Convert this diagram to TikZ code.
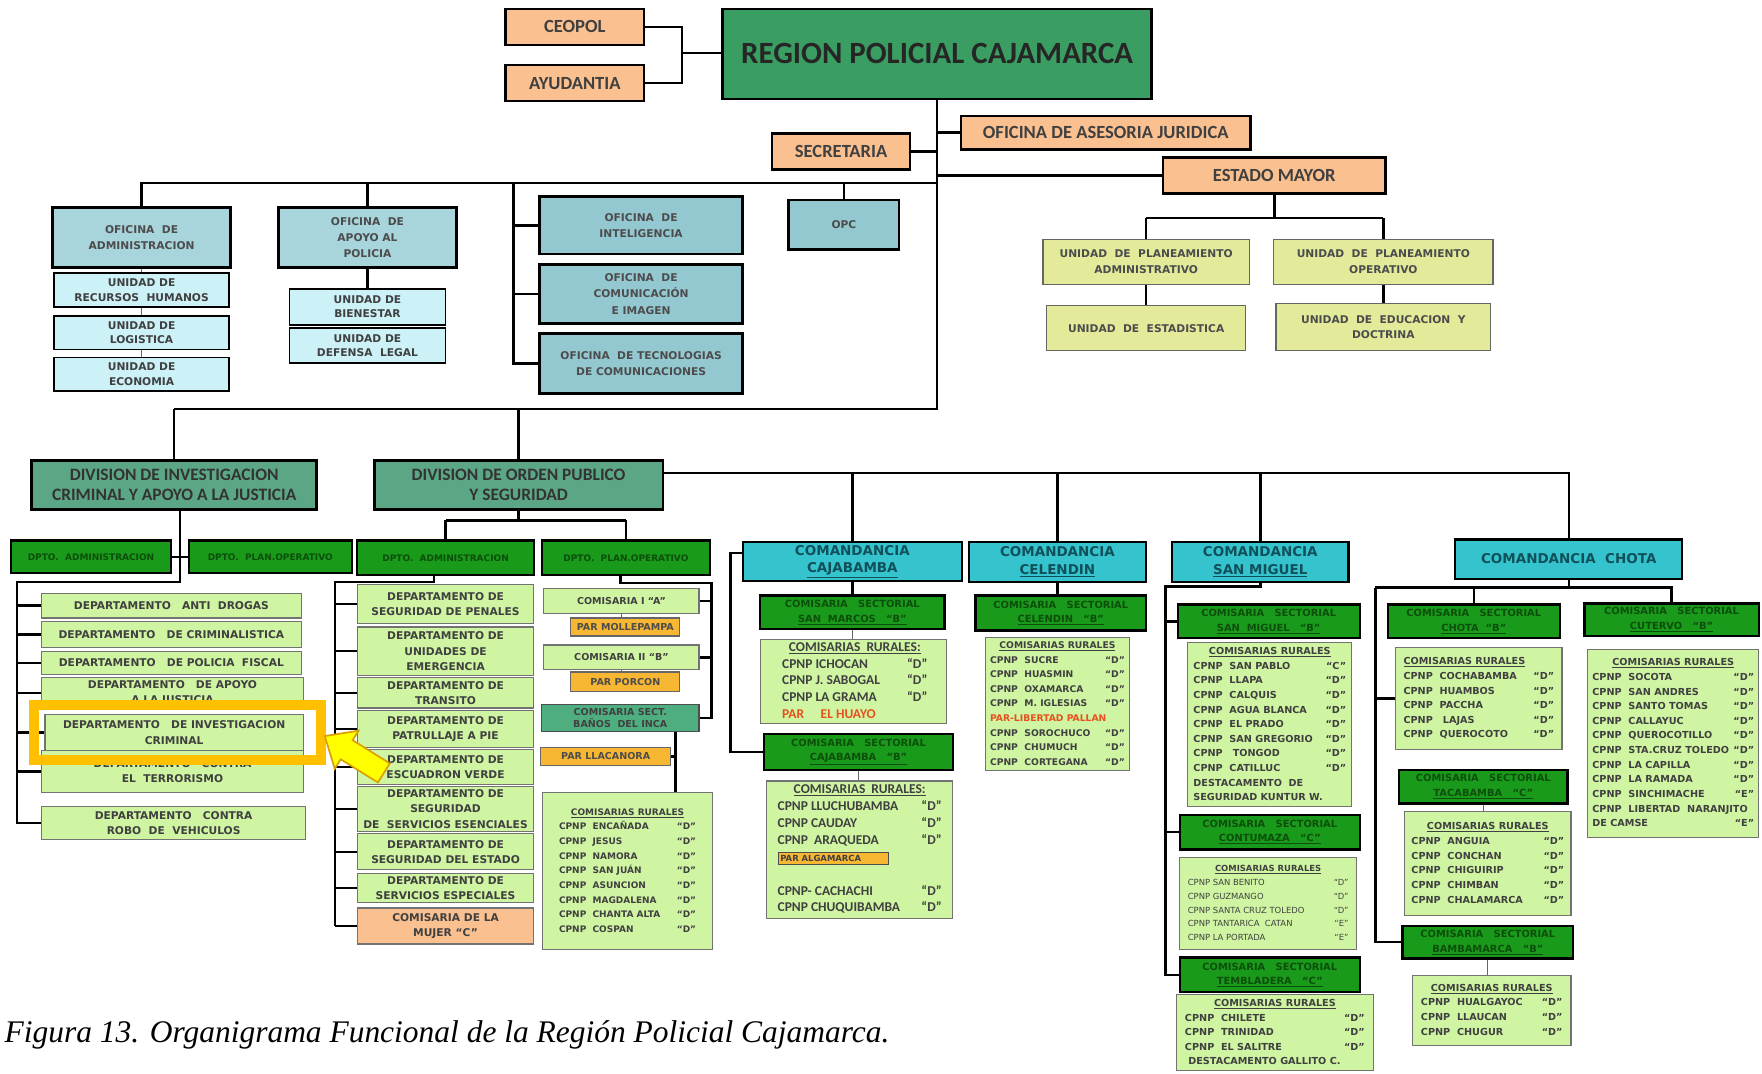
\documentclass[tikz,border=0pt]{standalone}
\usepackage{fontspec}
\setmainfont{Carlito}
\newfontfamily\tahf{DejaVu Sans}
\newfontfamily\capf{Liberation Serif}
\usetikzlibrary{positioning, calc}

\definecolor{peach}{HTML}{FAC090}
\definecolor{regiongreen}{HTML}{3A9E62}
\definecolor{officeblue}{HTML}{A8D4DC}
\definecolor{officeblue2}{HTML}{94C8D1}
\definecolor{unitcyan}{HTML}{CCF1F7}
\definecolor{yelgreen}{HTML}{E3EB9B}
\definecolor{divgreen}{HTML}{5BA785}
\definecolor{dptgreen}{HTML}{1A9A1A}
\definecolor{dpttext}{HTML}{0B4F0B}
\definecolor{deptgreen}{HTML}{CFF5A3}
\definecolor{comcyan}{HTML}{35C3CD}
\definecolor{comtext}{HTML}{10505A}
\definecolor{banosgreen}{HTML}{4FAE7F}
\definecolor{parorange}{HTML}{F7B733}
\definecolor{parred}{HTML}{E8501E}
\definecolor{hilite}{HTML}{FFC000}
\definecolor{arrowy}{HTML}{FFFF00}
\definecolor{arrowedge}{HTML}{D9A000}

% list of rural stations: width, rows
\newcommand{\rlist}[2]{\begin{tabular*}{#1pt}{@{}l@{\extracolsep{\fill}}r@{}}#2\end{tabular*}}
\newcommand{\rhead}[1]{\multicolumn{2}{c}{\underline{#1}}\\}
\newcommand{\rline}[1]{\multicolumn{2}{@{}l@{}}{#1}\\}

\begin{document}
\begin{tikzpicture}[x=1pt, y=-1pt,
  wh/.style 2 args={minimum width=#1pt, minimum height=#2pt},
  boxbase/.style={draw=black, line width=1.6pt, inner sep=1pt, align=center},
  topbox/.style={boxbase, fill=peach, line width=2.2pt, text=black!75, font=\bfseries\fontsize{16.5}{19}\selectfont},
  office/.style={boxbase, fill=officeblue, line width=2.6pt, text=black!70, font=\tahf\bfseries\fontsize{9.5}{14.5}\selectfont},
  officeb/.style={office, fill=officeblue2},
  unitbox/.style={boxbase, fill=unitcyan, line width=1.4pt, text=black!75, font=\tahf\bfseries\fontsize{9.5}{13}\selectfont},
  emunit/.style={boxbase, fill=yelgreen, draw=black!60, line width=1.2pt, text=black!70, font=\tahf\bfseries\fontsize{9.5}{14}\selectfont},
  divbox/.style={boxbase, fill=divgreen, line width=2.6pt, text=black!80, font=\bfseries\fontsize{15.5}{17}\selectfont},
  dptbox/.style={boxbase, fill=dptgreen, line width=2pt, text=dpttext, font=\tahf\bfseries\fontsize{8}{9}\selectfont},
  deptbox/.style={boxbase, fill=deptgreen, draw=black!55, line width=1pt, text=black!75, font=\tahf\bfseries\fontsize{9.5}{13.5}\selectfont},
  combox/.style={boxbase, fill=comcyan, line width=2pt, text=comtext, font=\tahf\bfseries\fontsize{12}{15.5}\selectfont},
  sectbox/.style={boxbase, fill=dptgreen, line width=2pt, text=dpttext, font=\tahf\bfseries\fontsize{8.8}{13}\selectfont},
  rurbox/.style={draw=black!55, line width=1pt, fill=deptgreen, inner sep=0pt, text=black!75, font=\tahf\bfseries\fontsize{8.6}{13}\selectfont},
  parstyle/.style={boxbase, fill=parorange, draw=black!60, line width=1pt, text=black!70, font=\tahf\bfseries\fontsize{8.5}{9}\selectfont},
  link/.style={line width=2.2pt, black},
  thinlink/.style={line width=1pt, black!60}
]
\useasboundingbox (0,0) rectangle (1568,955);

% top
\node (region) [boxbase, fill=regiongreen, line width=2.4pt, text=black!85, wh={382}{80}, font=\bfseries\fontsize{27.5}{30}\selectfont] at (834,48) {REGION POLICIAL CAJAMARCA};
\node (ceopol) [topbox, wh={123}{32}] at (511.5,24) {CEOPOL};
\node (ayud) [topbox, wh={123}{32}] at (511.5,74) {AYUDANTIA};
\node (asesoria) [topbox, wh={258}{30}] at (984,118) {OFICINA DE ASESORIA JURIDICA};
\node (secre) [topbox, wh={123}{32}] at (748.5,135) {SECRETARIA};
\node (estado) [topbox, wh={198}{32}] at (1134,156) {ESTADO MAYOR};

% offices
\node (ofadm) [office, wh={159}{53}] at (126,211.5) {OFICINA\ \ DE\\ADMINISTRACION};
\node (urh) [unitbox, wh={156}{30}] at (126,258) {UNIDAD DE\\RECURSOS\ \ HUMANOS};
\node (ulog) [unitbox, wh={156}{30}] at (126,296) {UNIDAD DE\\LOGISTICA};
\node (ueco) [unitbox, wh={156}{30}] at (126,333) {UNIDAD DE\\ECONOMIA};
\node (ofapo) [office, wh={159}{53}] at (327,211.5) {OFICINA\ \ DE\\APOYO AL\\POLICIA};
\node (ubien) [unitbox, wh={139}{32}] at (327,273) {UNIDAD DE\\BIENESTAR};
\node (udef) [unitbox, wh={139}{31}] at (327,307.5) {UNIDAD DE\\DEFENSA\ \ LEGAL};
\node (ofint) [officeb, wh={181}{51}] at (570.5,200.5) {OFICINA\ \ DE\\INTELIGENCIA};
\node (ofcom) [officeb, wh={181}{53}] at (570.5,261.5) {OFICINA\ \ DE\\COMUNICACIÓN\\E IMAGEN};
\node (oftec) [officeb, wh={181}{53}] at (570.5,323.5) {OFICINA\ \ DE TECNOLOGIAS\\DE COMUNICACIONES};
\node (opc) [officeb, wh={98}{44}] at (751,200) {OPC};

% estado mayor units
\node (upa) [emunit, wh={184}{40}] at (1020,233) {UNIDAD\ \ DE\ \ PLANEAMIENTO\\ADMINISTRATIVO};
\node (upo) [emunit, wh={195}{40}] at (1231,233) {UNIDAD\ \ DE\ \ PLANEAMIENTO\\OPERATIVO};
\node (uest) [emunit, wh={177}{40}] at (1020,292) {UNIDAD\ \ DE\ \ ESTADISTICA};
\node (uedu) [emunit, wh={191}{42}] at (1231,291) {UNIDAD\ \ DE\ \ EDUCACION\ \ Y\\DOCTRINA};

% divisions
\node (divic) [divbox, wh={254}{43}] at (155,431.5) {DIVISION DE INVESTIGACION\\CRIMINAL Y APOYO A LA JUSTICIA};
\node (divop) [divbox, wh={257}{43}] at (461.5,431.5) {DIVISION DE ORDEN PUBLICO\\Y SEGURIDAD};

\node (dadm1) [dptbox, wh={142}{29}] at (81,495.5) {DPTO.\ \ ADMINISTRACION};
\node (dplan1) [dptbox, wh={145}{29}] at (240.5,495.5) {DPTO.\ \ PLAN.OPERATIVO};
\node (dadm2) [dptbox, wh={157}{31}] at (396.5,496.5) {DPTO.\ \ ADMINISTRACION};
\node (dplan2) [dptbox, wh={150}{31}] at (557,496.5) {DPTO.\ \ PLAN.OPERATIVO};

% investigacion criminal departments
\node (da1) [deptbox, wh={231}{22}] at (152.5,539) {DEPARTAMENTO\ \ \ ANTI\ \ DROGAS};
\node (da2) [deptbox, wh={231}{23}] at (152.5,564.5) {DEPARTAMENTO\ \ \ DE CRIMINALISTICA};
\node (da3) [deptbox, wh={231}{20}] at (152.5,590) {DEPARTAMENTO\ \ \ DE POLICIA\ \ FISCAL};
\node (da4) [deptbox, wh={233}{27}] at (153.5,616.5) {DEPARTAMENTO\ \ \ DE APOYO\\A LA JUSTICIA};
\node (da6) [deptbox, wh={233}{37}] at (153.5,686.5) {DEPARTAMENTO\ \ \ CONTRA\\EL\ \ TERRORISMO};
\node (da5) [deptbox, wh={230}{32}] at (155,652) {DEPARTAMENTO\ \ \ DE INVESTIGACION\\CRIMINAL};
\node (da7) [deptbox, wh={235}{29}] at (154.5,732.5) {DEPARTAMENTO\ \ \ CONTRA\\ROBO\ \ DE\ \ VEHICULOS};

% orden publico departments
\node (dm1) [deptbox, wh={157}{35}] at (396.5,537.5) {DEPARTAMENTO DE\\SEGURIDAD DE PENALES};
\node (dm2) [deptbox, wh={157}{43}] at (396.5,579.5) {DEPARTAMENTO DE\\UNIDADES DE\\EMERGENCIA};
\node (dm3) [deptbox, wh={157}{27}] at (396.5,616.5) {DEPARTAMENTO DE\\TRANSITO};
\node (dm4) [deptbox, wh={157}{33}] at (396.5,648.5) {DEPARTAMENTO DE\\PATRULLAJE A PIE};
\node (dm5) [deptbox, wh={157}{31}] at (396.5,682.5) {DEPARTAMENTO DE\\ESCUADRON VERDE};
\node (dm6) [deptbox, wh={157}{40}] at (396.5,720) {DEPARTAMENTO DE\\SEGURIDAD\\DE\ \ SERVICIOS ESENCIALES};
\node (dm7) [deptbox, wh={157}{32}] at (396.5,758) {DEPARTAMENTO DE\\SEGURIDAD DEL ESTADO};
\node (dm8) [deptbox, wh={157}{26}] at (396.5,790) {DEPARTAMENTO DE\\SERVICIOS ESPECIALES};
\node (dm9) [deptbox, fill=peach, wh={157}{32}] at (396.5,824) {COMISARIA DE LA\\MUJER “C”};

% plan operativo column
\node (ci) [deptbox, wh={138}{22}, font=\tahf\bfseries\fontsize{8.5}{9}\selectfont] at (553,535) {COMISARIA I “A”};
\node (pmoll) [parstyle, wh={97}{16}] at (556.5,558) {PAR MOLLEPAMPA};
\node (cii) [deptbox, wh={138}{22}, font=\tahf\bfseries\fontsize{8.5}{9}\selectfont] at (553,585) {COMISARIA II “B”};
\node (pporc) [parstyle, wh={97}{17}] at (556.5,606.5) {PAR PORCON};
\node (cbanos) [deptbox, fill=banosgreen, draw=black!70, wh={140}{24}, font=\tahf\bfseries\fontsize{8.5}{11}\selectfont] at (552,639) {COMISARIA SECT.\\BAÑOS\ \ DEL INCA};
\node (pllac) [parstyle, wh={116}{16}] at (539,673) {PAR LLACANORA};
\node (rbanos) [rurbox, wh={151}{140}, font=\tahf\bfseries\fontsize{8}{13}\selectfont] at (558.5,775) {\rlist{122}{\rhead{COMISARIAS RURALES}
CPNP\ \ ENCAÑADA & “D”\\ CPNP\ \ JESUS & “D”\\ CPNP\ \ NAMORA & “D”\\ CPNP\ \ SAN JUÁN & “D”\\
CPNP\ \ ASUNCION & “D”\\ CPNP\ \ MAGDALENA & “D”\\ CPNP\ \ CHANTA ALTA & “D”\\ CPNP\ \ COSPAN & “D”}};

% comandancias
\node (ccaj) [combox, wh={195}{35}] at (758.5,499.5) {COMANDANCIA\\\underline{CAJABAMBA}};
\node (ccel) [combox, wh={158}{36}] at (941,500) {COMANDANCIA\\\underline{CELENDIN}};
\node (csm) [combox, wh={157}{36}] at (1121.5,500) {COMANDANCIA\\\underline{SAN MIGUEL}};
\node (cchota) [combox, wh={202}{35}] at (1396,497.5) {COMANDANCIA\ \ CHOTA};

% cajabamba
\node (csmarcos) [sectbox, wh={164}{30}] at (758.5,545) {COMISARIA\ \ \ SECTORIAL\\\underline{SAN\ \ MARCOS\ \ \ “B”}};
\node (rsmarcos) [rurbox, wh={165}{73}, font=\bfseries\fontsize{12}{15}\selectfont] at (759.5,606.5) {\rlist{127}{\rhead{COMISARIAS\ \ RURALES:}
CPNP ICHOCAN & “D”\\ CPNP J. SABOGAL & “D”\\ CPNP LA GRAMA & “D”\\ \rline{\textcolor{parred}{PAR\quad\ EL HUAYO}}}};
\node (ccajs) [sectbox, wh={168}{32}] at (764,669) {COMISARIA\ \ \ SECTORIAL\\\underline{CAJABAMBA\ \ \ “B”}};
\node (rcaj) [rurbox, wh={166}{122}, font=\bfseries\fontsize{12}{15}\selectfont] at (765,756) {\rlist{146}{\rhead{COMISARIAS\ \ RURALES:}
CPNP LLUCHUBAMBA & “D”\\ CPNP CAUDAY & “D”\\ CPNP\ \ ARAQUEDA & “D”\\
\rline{\setlength{\fboxsep}{2pt}\fcolorbox{black!70}{parorange}{\tahf\fontsize{7.5}{8}\selectfont\makebox[94pt][l]{PAR ALGAMARCA}}}
 & \\ CPNP- CACHACHI & “D”\\ CPNP CHUQUIBAMBA & “D”}};

% celendin
\node (ccels) [sectbox, wh={152}{31}] at (944,545.5) {COMISARIA\ \ \ SECTORIAL\\\underline{CELENDIN\ \ \ “B”}};
\node (rcel) [rurbox, wh={128}{119}, font=\tahf\bfseries\fontsize{8.2}{13}\selectfont] at (941,626.5) {\rlist{120}{\rhead{COMISARIAS RURALES}
CPNP\ \ SUCRE & “D”\\ CPNP\ \ HUASMIN & “D”\\ CPNP\ \ OXAMARCA & “D”\\ CPNP\ \ M. IGLESIAS & “D”\\
\rline{\textcolor{parred}{PAR-LIBERTAD PALLAN}} CPNP\ \ SOROCHUCO & “D”\\ CPNP\ \ CHUMUCH & “D”\\ CPNP\ \ CORTEGANA & “D”}};

% san miguel
\node (csms) [sectbox, wh={162}{30}] at (1129,553) {COMISARIA\ \ \ SECTORIAL\\\underline{SAN\ \ MIGUEL\ \ \ “B”}};
\node (rsm) [rurbox, wh={146}{146}] at (1130,645) {\rlist{136}{\rhead{COMISARIAS RURALES}
CPNP\ \ SAN PABLO & “C”\\ CPNP\ \ LLAPA & “D”\\ CPNP\ \ CALQUIS & “D”\\ CPNP\ \ AGUA BLANCA & “D”\\
CPNP\ \ EL PRADO & “D”\\ CPNP\ \ SAN GREGORIO & “D”\\ CPNP\ \ \ TONGOD & “D”\\ CPNP\ \ CATILLUC & “D”\\
\rline{DESTACAMENTO\ \ DE} \rline{SEGURIDAD KUNTUR W.}}};
\node (ccon) [sectbox, wh={160}{31}] at (1130,740.5) {COMISARIA\ \ \ SECTORIAL\\\underline{CONTUMAZA\ \ \ “C”}};
\node (rcon) [rurbox, wh={157}{82}, font=\tahf\fontsize{7.5}{12.2}\selectfont] at (1128.5,804) {\rlist{143}{\rhead{\bfseries COMISARIAS RURALES}
CPNP SAN BENITO & “D”\\ CPNP GUZMANGO & “D”\\ CPNP SANTA CRUZ TOLEDO & “D”\\
CPNP TANTARICA\ \ CATAN & “E”\\ CPNP LA PORTADA & “E”}};
\node (ctem) [sectbox, wh={160}{31}] at (1130,867.5) {COMISARIA\ \ \ SECTORIAL\\\underline{TEMBLADERA\ \ \ “C”}};
\node (rtem) [rurbox, wh={175}{68}] at (1134.5,919) {\rlist{160}{\rhead{COMISARIAS RURALES}
CPNP\ \ CHILETE & “D”\\ CPNP\ \ TRINIDAD & “D”\\ CPNP\ \ EL SALITRE & “D”\\ \rline{\ DESTACAMENTO GALLITO C.}}};

% chota
\node (cchs) [sectbox, wh={153}{30}] at (1311.5,553) {COMISARIA\ \ \ SECTORIAL\\\underline{CHOTA\ \ “B”}};
\node (rch) [rurbox, wh={148}{91}] at (1316,621.5) {\rlist{134}{\rline{\underline{COMISARIAS RURALES}}
CPNP\ \ COCHABAMBA & “D”\\ CPNP\ \ HUAMBOS & “D”\\ CPNP\ \ PACCHA & “D”\\ CPNP\ \ \ LAJAS & “D”\\ CPNP\ \ QUEROCOTO & “D”}};
\node (ctac) [sectbox, wh={150}{30}] at (1320,700) {COMISARIA\ \ \ SECTORIAL\\\underline{TACABAMBA\ \ \ “C”}};
\node (rtac) [rurbox, wh={148}{93}] at (1324,768.5) {\rlist{136}{\rhead{COMISARIAS RURALES}
CPNP\ \ ANGUIA & “D”\\ CPNP\ \ CONCHAN & “D”\\ CPNP\ \ CHIGUIRIP & “D”\\ CPNP\ \ CHIMBAN & “D”\\ CPNP\ \ CHALAMARCA & “D”}};
\node (cbam) [sectbox, wh={152}{29}] at (1324,838.5) {COMISARIA\ \ \ SECTORIAL\\\underline{BAMBAMARCA\ \ \ “B”}};
\node (rbam) [rurbox, wh={141}{62}] at (1327.5,899) {\rlist{126}{\rhead{COMISARIAS RURALES}
CPNP\ \ HUALGAYOC & “D”\\ CPNP\ \ LLAUCAN & “D”\\ CPNP\ \ CHUGUR & “D”}};
\node (ccut) [sectbox, wh={155}{29}] at (1487.5,551.5) {COMISARIA\ \ \ SECTORIAL\\\underline{CUTERVO\ \ \ “B”}};
\node (rcut) [rurbox, wh={152}{167}] at (1489,661.5) {\rlist{144}{\rhead{COMISARIAS RURALES}
CPNP\ \ SOCOTA & “D”\\ CPNP\ \ SAN ANDRES & “D”\\ CPNP\ \ SANTO TOMAS & “D”\\ CPNP\ \ CALLAYUC & “D”\\
CPNP\ \ QUEROCOTILLO & “D”\\ CPNP\ \ STA.CRUZ TOLEDO & “D”\\ CPNP\ \ LA CAPILLA & “D”\\ CPNP\ \ LA RAMADA & “D”\\
CPNP\ \ SINCHIMACHE & “E”\\ \rline{CPNP\ \ LIBERTAD\ \ NARANJITO} DE CAMSE & “E”}};

% junctions
\coordinate (brk) at (607,47);
\coordinate (offl) at (125,163);
\coordinate (brk2) at (457,163);
\coordinate (divl) at (155,364);
\coordinate (opb) at (590,421);
\coordinate (lbt) at (160,518);
\coordinate (lbb) at (15,733);
\coordinate (mj) at (460,463);
\coordinate (mbt) at (386,518);
\coordinate (mbb) at (298,824);
\coordinate (rbt) at (552,519);
\coordinate (rbb) at (633,639);
\coordinate (bx) at (601,0);
\coordinate (cjb) at (650,492);
\coordinate (smb) at (1037,522);
\coordinate (chl) at (1224,523);

% connectors, top part
\draw [link] (ceopol.east) -- (brk |- ceopol.east) -- (brk |- ayud.east) -- (ayud.east);
\draw [link] (brk) -- (region.west |- brk);
\draw [link] (region.south) -- (region.south |- divl) -- (divl);
\draw [link] (offl) -- (offl -| region.south);
\draw [link] (brk2) -- (brk2 |- oftec.west) -- (oftec.west);
\path [-] [link]
  (asesoria.west) edge (asesoria.west -| region.south)
  (secre.east) edge (secre.east -| region.south)
  (estado.west) edge (estado.west -| region.south)
  (ofadm.north |- offl) edge (ofadm.north)
  (ofapo.north |- offl) edge (ofapo.north)
  (opc.north |- offl) edge (opc.north)
  (brk2 |- ofint.west) edge (ofint.west)
  (brk2 |- ofcom.west) edge (ofcom.west)
  (ofapo.south) edge (ubien.north)
  (upa.south) edge (uest.north)
  (upo.south) edge (uedu.north);
\path [-] [thinlink, line width=1.4pt]
  (ofadm.south) edge (urh.north)
  (urh.south) edge (ulog.north)
  (ulog.south) edge (ueco.north);
\draw [link] (estado.south) -- ++(0,21) coordinate (emj);
\draw [link] (upa.north |- emj) -- (upo.north |- emj);
\path [-] [link]
  (upa.north |- emj) edge (upa.north)
  (upo.north |- emj) edge (upo.north);

% divisions
\path [-] [link]
  (divl) edge (divic.north)
  (divop.north |- divl) edge (divop.north);
\draw [link] (divop.east |- opb) -- (cchota.north |- opb) -- (cchota.north);
\path [-] [link]
  (ccaj.north |- opb) edge (ccaj.north)
  (ccel.north |- opb) edge (ccel.north)
  (csm.north |- opb) edge (csm.north);

% investigacion criminal
\draw [link] (divic.south -| lbt) -- (lbt) -- (lbt -| lbb) -- (lbb);
\path [-] [link]
  (dadm1.east) edge (dplan1.west)
  (da1.west -| lbb) edge (da1.west)
  (da2.west -| lbb) edge (da2.west)
  (da3.west -| lbb) edge (da3.west)
  (da4.west -| lbb) edge (da4.west)
  (da5.west -| lbb) edge (da5.west)
  (da6.west -| lbb) edge (da6.west)
  (da7.west -| lbb) edge (da7.west);

% orden publico
\draw [link] (divop.south) -- (divop.south |- mj);
\draw [link] (dadm2.north |- mj) -- (dplan2.north |- mj);
\path [-] [link]
  (dadm2.north |- mj) edge (dadm2.north)
  (dplan2.north |- mj) edge (dplan2.north);
\draw [link] (dadm2.south -| mbt) -- (mbt) -- (mbt -| mbb) -- (mbb);
\path [-] [link]
  (dm1.west -| mbb) edge (dm1.west)
  (dm2.west -| mbb) edge (dm2.west)
  (dm3.west -| mbb) edge (dm3.west)
  (dm4.west -| mbb) edge (dm4.west)
  (dm5.west -| mbb) edge (dm5.west)
  (dm6.west -| mbb) edge (dm6.west)
  (dm7.west -| mbb) edge (dm7.west)
  (dm8.west -| mbb) edge (dm8.west)
  (dm9.west -| mbb) edge (dm9.west);
\draw [link] (dplan2.south -| rbt) -- (rbt) -- (rbt -| rbb) -- (rbb) -- (cbanos.east);
\path [-] [link]
  (ci.east) edge (ci.east -| rbb)
  (cii.east) edge (cii.east -| rbb)
  (bx |- cbanos.south) edge (bx |- rbanos.north)
  (pllac.east) edge (pllac.east -| bx);
\path [-] [thinlink]
  (ci.south) edge (ci.south |- pmoll.north)
  (cii.south) edge (cii.south |- pporc.north);

% comandancias
\draw [link] (ccaj.west |- cjb) -- (cjb) -- (cjb |- ccajs.west) -- (ccajs.west);
\path [-] [link]
  (ccaj.south) edge (csmarcos.north)
  (ccel.south) edge (ccel.south |- ccels.north);
\path [-] [thinlink]
  (csmarcos.south) edge (csmarcos.south |- rsmarcos.north)
  (ccajs.south) edge (ccajs.south |- rcaj.north);
\draw [link] (csm.south) -- (csm.south |- smb) -- (smb) -- (smb |- ctem.west) -- (ctem.west);
\path [-] [link]
  (smb |- csms.west) edge (csms.west)
  (smb |- ccon.west) edge (ccon.west);
\draw [link] (cchota.south) -- (cchota.south |- chl);
\draw [link] (chl) -- (ccut.north |- chl) -- (ccut.north);
\draw [link] (chl) -- (chl |- cbam.west) -- (cbam.west);
\path [-] [link]
  (cchs.north |- chl) edge (cchs.north)
  (chl |- rch.west) edge (rch.west);
\path [-] [thinlink]
  (ctac.south) edge (ctac.south |- rtac.north)
  (cbam.south) edge (cbam.south |- rbam.north);

% highlight and pointer
\draw [hilite, line width=9pt] (30.5,627.5) rectangle (285.5,676.5);
\filldraw [fill=arrowy, draw=arrowedge, line width=1.5pt, shift={(289,655)}, rotate=-32]
  (0,0) -- (23,-20) -- (23,-10) -- (62,-10) -- (62,10) -- (23,10) -- (23,20) -- cycle;

% caption
\node (cap) [anchor=base west, font=\capf\itshape\fontsize{28}{32}\selectfont, inner sep=0pt] at (4,928) {Figura 13. Organigrama Funcional de la Región Policial Cajamarca.};
\end{tikzpicture}
\end{document}
